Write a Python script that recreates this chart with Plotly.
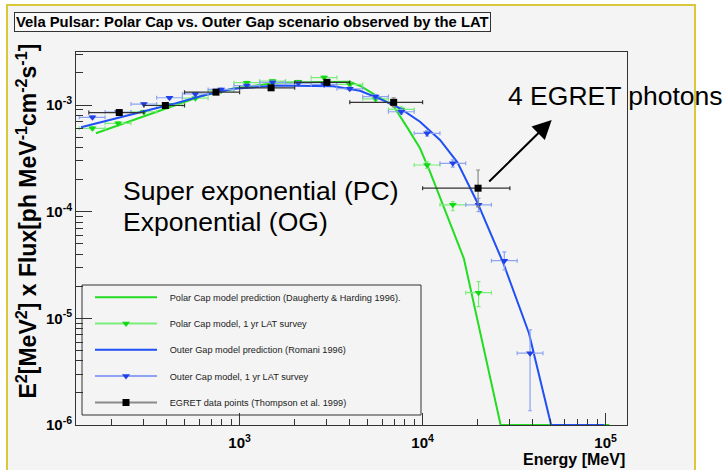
import plotly.graph_objects as go

# ---------------- data ----------------
# EGRET pulsed Vela spectrum (Thompson et al. 1999), E^2 dN/dE
egret_energy = [220, 393, 743, 1486, 3000, 6950, 20100]
egret_e_low = [150, 300, 500, 1000, 2000, 4000, 10000]
egret_e_high = [300, 500, 1000, 2000, 4000, 10000, 30000]
egret_flux = [8.5e-4, 9.9e-4, 1.32e-3, 1.45e-3, 1.63e-3, 1.06e-3, 1.66e-4]
egret_flux_low = [8.3e-4, 9.7e-4, 1.29e-3, 1.42e-3, 1.59e-3, 9.6e-4, 1.11e-4]
egret_flux_high = [8.7e-4, 1.01e-3, 1.35e-3, 1.48e-3, 1.67e-3, 1.17e-3, 2.46e-4]

# Polar Cap model prediction (Daugherty & Harding 1996)
pc_model_energy = [164, 608, 924, 1660, 4000, 4640, 5610, 6920, 8190, 9680,
                   10970, 16800, 26700, 105000]
pc_model_flux = [5.43e-4, 1.2e-3, 1.43e-3, 1.63e-3, 1.65e-3, 1.49e-3, 1.22e-3,
                 9.86e-4, 6.27e-4, 3.93e-4, 2.37e-4, 3.65e-5, 1e-6, 1e-6]

# Outer Gap model prediction (Romani 1996)
og_model_energy = [136, 194, 295, 431, 655, 924, 1600, 3250, 4550, 5850, 7540,
                   9680, 12450, 15500, 20000, 27600, 38100, 50400, 98000]
og_model_flux = [6.2e-4, 7.23e-4, 8.6e-4, 1.02e-3, 1.25e-3, 1.42e-3, 1.52e-3,
                 1.5e-3, 1.36e-3, 1.14e-3, 9.3e-4, 6.98e-4, 4.7e-4, 2.9e-4,
                 1.2e-4, 3.3e-5, 7.3e-6, 1e-6, 1e-6]

# simulated 1 yr LAT survey binning
lat_bin_edges = [133, 184, 255, 352, 487, 673, 931, 1287, 1780, 2462, 3404,
                 4706, 6507, 8998, 12440, 17200, 23780, 32880, 45460]
lat_energy = [157, 217, 300, 414, 573, 792, 1095, 1514, 2094, 2895, 4002,
              5534, 7650, 10580, 14630, 20220, 27960, 38660]

pc_lat_flux = [6.04e-4, 6.73e-4, 8.65e-4, 1.0e-3, 1.16e-3, 1.36e-3, 1.62e-3,
               1.68e-3, 1.65e-3, 1.81e-3, 1.56e-3, 1.14e-3, 9.1e-4, 2.74e-4,
               1.16e-4, 1.74e-5]
pc_lat_flux_low = [5.85e-4, 6.52e-4, 8.4e-4, 9.7e-4, 1.13e-3, 1.32e-3, 1.57e-3,
                   1.63e-3, 1.6e-3, 1.75e-3, 1.5e-3, 1.09e-3, 8.6e-4, 2.55e-4,
                   1.02e-4, 1.29e-5]
pc_lat_flux_high = [6.23e-4, 6.94e-4, 8.9e-4, 1.03e-3, 1.19e-3, 1.4e-3, 1.67e-3,
                    1.73e-3, 1.7e-3, 1.87e-3, 1.62e-3, 1.19e-3, 9.6e-4, 2.93e-4,
                    1.24e-4, 2.21e-5]

og_lat_flux = [7.67e-4, 8.6e-4, 1.02e-3, 1.17e-3, 1.27e-3, 1.4e-3, 1.52e-3,
               1.63e-3, 1.6e-3, 1.56e-3, 1.42e-3, 1.2e-3, 8.65e-4, 5.43e-4,
               2.84e-4, 1.16e-4, 3.47e-5, 4.71e-6]
og_lat_flux_low = [7.45e-4, 8.35e-4, 9.9e-4, 1.14e-3, 1.24e-3, 1.36e-3, 1.48e-3,
                   1.58e-3, 1.55e-3, 1.51e-3, 1.37e-3, 1.15e-3, 8.2e-4, 5.1e-4,
                   2.62e-4, 1.0e-4, 2.84e-5, 1.36e-6]
og_lat_flux_high = [7.9e-4, 8.85e-4, 1.05e-3, 1.2e-3, 1.3e-3, 1.44e-3, 1.56e-3,
                    1.68e-3, 1.65e-3, 1.61e-3, 1.47e-3, 1.25e-3, 9.1e-4, 5.75e-4,
                    3.06e-4, 1.33e-4, 4.2e-5, 7.78e-6]

y_tick_values = [1e-6, 1e-5, 1e-4, 1e-3]
y_tick_labels = ["10<sup>-6</sup>", "10<sup>-5</sup>", "10<sup>-4</sup>", "10<sup>-3</sup>"]
x_tick_values = [1e3, 1e4, 1e5]
x_tick_labels = ["10<sup>3</sup>", "10<sup>4</sup>", "10<sup>5</sup>"]

legend_labels = [
    "Polar Cap model prediction (Daugherty & Harding 1996).",
    "Polar Cap model, 1 yr LAT survey",
    "Outer Gap model prediction (Romani 1996)",
    "Outer Cap model, 1 yr LAT survey",
    "EGRET data points (Thompson et al. 1999)",
]

# ---------------- style ----------------
FONT = "Liberation Sans, Arial, Helvetica, sans-serif"
GREEN = "#22dd22"
GREEN_MARK = "#14d814"
GREEN_ERR = "#7ced7c"
BLUE = "#1f4ff5"
BLUE_MARK = "#2040e8"
BLUE_ERR = "#8ea4f2"
GREY_ERR = "#8a8a8a"
CANVAS = "#f4f4f4"
FRAME = "#333333"
YELLOW = "#d8c83a"

W, H = 727, 470
L, R, T, B = 76, 627, 52, 425   # frame edges in pixels
X_RANGE = [2.106, 5.117]
Y_RANGE = [-6, -2.503]


def xp(px):
    return (px - L) / (R - L)


def yp(py):
    return (B - py) / (B - T)


def errs(center, low, high):
    plus = [h - c for c, h in zip(center, high)]
    minus = [c - lo for c, lo in zip(center, low)]
    return plus, minus


fig = go.Figure()

# Polar Cap model curve
fig.add_trace(go.Scatter(x=pc_model_energy, y=pc_model_flux, mode="lines",
                         line=dict(color=GREEN, width=2), showlegend=False))

# Polar Cap simulated LAT points
n_pc = len(pc_lat_flux)
pc_plus, pc_minus = errs(pc_lat_flux, pc_lat_flux_low, pc_lat_flux_high)
pc_e = lat_energy[:n_pc]
pc_xp, pc_xm = errs(pc_e, lat_bin_edges[:n_pc], lat_bin_edges[1:n_pc + 1])
fig.add_trace(go.Scatter(
    x=pc_e, y=pc_lat_flux, mode="markers",
    marker=dict(symbol="triangle-down", size=7, color=GREEN_MARK),
    error_x=dict(type="data", symmetric=False, array=pc_xp, arrayminus=pc_xm,
                 color=GREEN_ERR, thickness=1.2, width=2),
    error_y=dict(type="data", symmetric=False, array=pc_plus, arrayminus=pc_minus,
                 color=GREEN_ERR, thickness=1.2, width=2),
    showlegend=False))

# Outer Gap model curve
fig.add_trace(go.Scatter(x=og_model_energy, y=og_model_flux, mode="lines",
                         line=dict(color=BLUE, width=2), showlegend=False))

# Outer Gap simulated LAT points
og_plus, og_minus = errs(og_lat_flux, og_lat_flux_low, og_lat_flux_high)
og_xp, og_xm = errs(lat_energy, lat_bin_edges[:-1], lat_bin_edges[1:])
fig.add_trace(go.Scatter(
    x=lat_energy, y=og_lat_flux, mode="markers",
    marker=dict(symbol="triangle-down", size=7, color=BLUE_MARK),
    error_x=dict(type="data", symmetric=False, array=og_xp, arrayminus=og_xm,
                 color=BLUE_ERR, thickness=1.2, width=2),
    error_y=dict(type="data", symmetric=False, array=og_plus, arrayminus=og_minus,
                 color=BLUE_ERR, thickness=1.2, width=2),
    showlegend=False))

# EGRET points
eg_plus, eg_minus = errs(egret_flux, egret_flux_low, egret_flux_high)
eg_xp, eg_xm = errs(egret_energy, egret_e_low, egret_e_high)
fig.add_trace(go.Scatter(
    x=egret_energy, y=egret_flux, mode="markers",
    marker=dict(symbol="square", size=7, color="black"),
    error_x=dict(type="data", symmetric=False, array=eg_xp, arrayminus=eg_xm,
                 color=FRAME, thickness=1.2, width=2),
    error_y=dict(type="data", symmetric=False, array=eg_plus, arrayminus=eg_minus,
                 color=GREY_ERR, thickness=1.2, width=2),
    showlegend=False))

# legend entries (one small legend per row, inside a common box)
legend_styles = [
    dict(mode="lines", line=dict(color=GREEN, width=2)),
    dict(mode="lines+markers", line=dict(color=GREEN_ERR, width=2),
         marker=dict(symbol="triangle-down", size=7, color=GREEN_MARK)),
    dict(mode="lines", line=dict(color=BLUE, width=2)),
    dict(mode="lines+markers", line=dict(color=BLUE_ERR, width=2),
         marker=dict(symbol="triangle-down", size=7, color=BLUE_MARK)),
    dict(mode="lines+markers", line=dict(color=GREY_ERR, width=2),
         marker=dict(symbol="square", size=7, color="black")),
]
row_y = [297.3, 323.5, 349.7, 376.0, 402.5]
indent = "\u00a0\u00a0\u00a0"
legend_layouts = {}
for i, (label, style) in enumerate(zip(legend_labels, legend_styles)):
    name = "legend" if i == 0 else f"legend{i + 1}"
    fig.add_trace(go.Scatter(x=[None], y=[None], name=indent + label,
                             legend=name, **style))
    legend_layouts[name] = dict(
        x=xp(90), y=yp(row_y[i]), xanchor="left", yanchor="middle",
        bgcolor="rgba(0,0,0,0)", borderwidth=0, itemwidth=62,
        font=dict(family=FONT, size=9.2, color="#222222"),
        tracegroupgap=0)

shapes = [
    # white surround outside the yellow canvas border
    dict(type="rect", xref="paper", yref="paper", layer="below",
         x0=xp(-5), x1=xp(7), y0=yp(480), y1=yp(-5),
         fillcolor="white", line=dict(width=0)),
    dict(type="rect", xref="paper", yref="paper", layer="below",
         x0=xp(695), x1=xp(735), y0=yp(480), y1=yp(-5),
         fillcolor="white", line=dict(width=0)),
    dict(type="rect", xref="paper", yref="paper", layer="below",
         x0=xp(-5), x1=xp(735), y0=yp(5), y1=yp(-5),
         fillcolor="white", line=dict(width=0)),
    # yellow canvas border
    dict(type="path", xref="paper", yref="paper",
         path=f"M{xp(7)},{yp(480)} L{xp(7)},{yp(5)} L{xp(695)},{yp(5)} L{xp(695)},{yp(480)}",
         line=dict(color=YELLOW, width=2)),
    # legend box
    dict(type="rect", xref="paper", yref="paper",
         x0=xp(82), x1=xp(421), y0=yp(415), y1=yp(285),
         fillcolor="rgba(0,0,0,0)", line=dict(color=FRAME, width=1)),
]

annotations = [
    dict(text="<b>Vela Pulsar: Polar Cap vs. Outer Gap scenario observed by the LAT</b>",
         xref="paper", yref="paper", x=xp(252.5), y=yp(21.5),
         xanchor="center", yanchor="middle", showarrow=False,
         font=dict(family=FONT, size=14.8, color="black"),
         bgcolor="#f9f9f9", bordercolor=FRAME, borderwidth=1, borderpad=1),
    dict(text="<b>E<sup>2</sup>[MeV<sup>2</sup>] x Flux[ph MeV<sup>-1</sup>cm<sup>-2</sup>s<sup>-1</sup>]</b>",
         xref="paper", yref="paper", x=xp(26), y=yp(221.5), textangle=-90,
         xanchor="center", yanchor="middle", showarrow=False,
         font=dict(family=FONT, size=23, color="black")),
    dict(text="<b>Energy [MeV]</b>", xref="paper", yref="paper",
         x=xp(627), y=yp(459), xanchor="right", yanchor="middle", showarrow=False,
         font=dict(family=FONT, size=16, color="black")),
    dict(text="Super exponential (PC)", xref="paper", yref="paper",
         x=xp(121), y=yp(190.5), xanchor="left", yanchor="middle", showarrow=False,
         font=dict(family=FONT, size=26.5, color="black")),
    dict(text="Exponential (OG)", xref="paper", yref="paper",
         x=xp(121), y=yp(221.5), xanchor="left", yanchor="middle", showarrow=False,
         font=dict(family=FONT, size=26.5, color="black")),
    dict(text="4 EGRET photons", xref="paper", yref="paper",
         x=xp(506), y=yp(96.5), xanchor="left", yanchor="middle", showarrow=False,
         font=dict(family=FONT, size=26.5, color="black")),
    dict(text="", xref="paper", yref="paper", x=xp(551.7), y=yp(120),
         ax=-64, ay=63, showarrow=True, arrowhead=2, arrowsize=1.9,
         arrowwidth=2, arrowcolor="black", standoff=0),
]

axis_common = dict(type="log", showgrid=False, zeroline=False, showline=True,
                   mirror=True, linecolor=FRAME, linewidth=1,
                   ticks="inside", tickcolor=FRAME, tickwidth=1, tickmode="array",
                   tickfont=dict(family=FONT, size=15, color="black", weight="bold"))

fig.update_layout(
    width=W, height=H,
    margin=dict(l=L, r=W - R, t=T, b=H - B),
    paper_bgcolor=CANVAS, plot_bgcolor=CANVAS,
    xaxis=dict(axis_common, range=X_RANGE, tickvals=x_tick_values,
               ticktext=x_tick_labels, ticklen=12, ticklabelstandoff=4,
               minor=dict(ticks="inside", ticklen=6, tickcolor=FRAME, tickwidth=1,
                          dtick="D1", showgrid=False)),
    yaxis=dict(axis_common, range=Y_RANGE, tickvals=y_tick_values,
               ticktext=y_tick_labels, ticklen=16,
               minor=dict(ticks="inside", ticklen=7, tickcolor=FRAME, tickwidth=1,
                          dtick="D1", showgrid=False)),
    shapes=shapes, annotations=annotations,
    **legend_layouts,
)

fig.write_html("out.html")
